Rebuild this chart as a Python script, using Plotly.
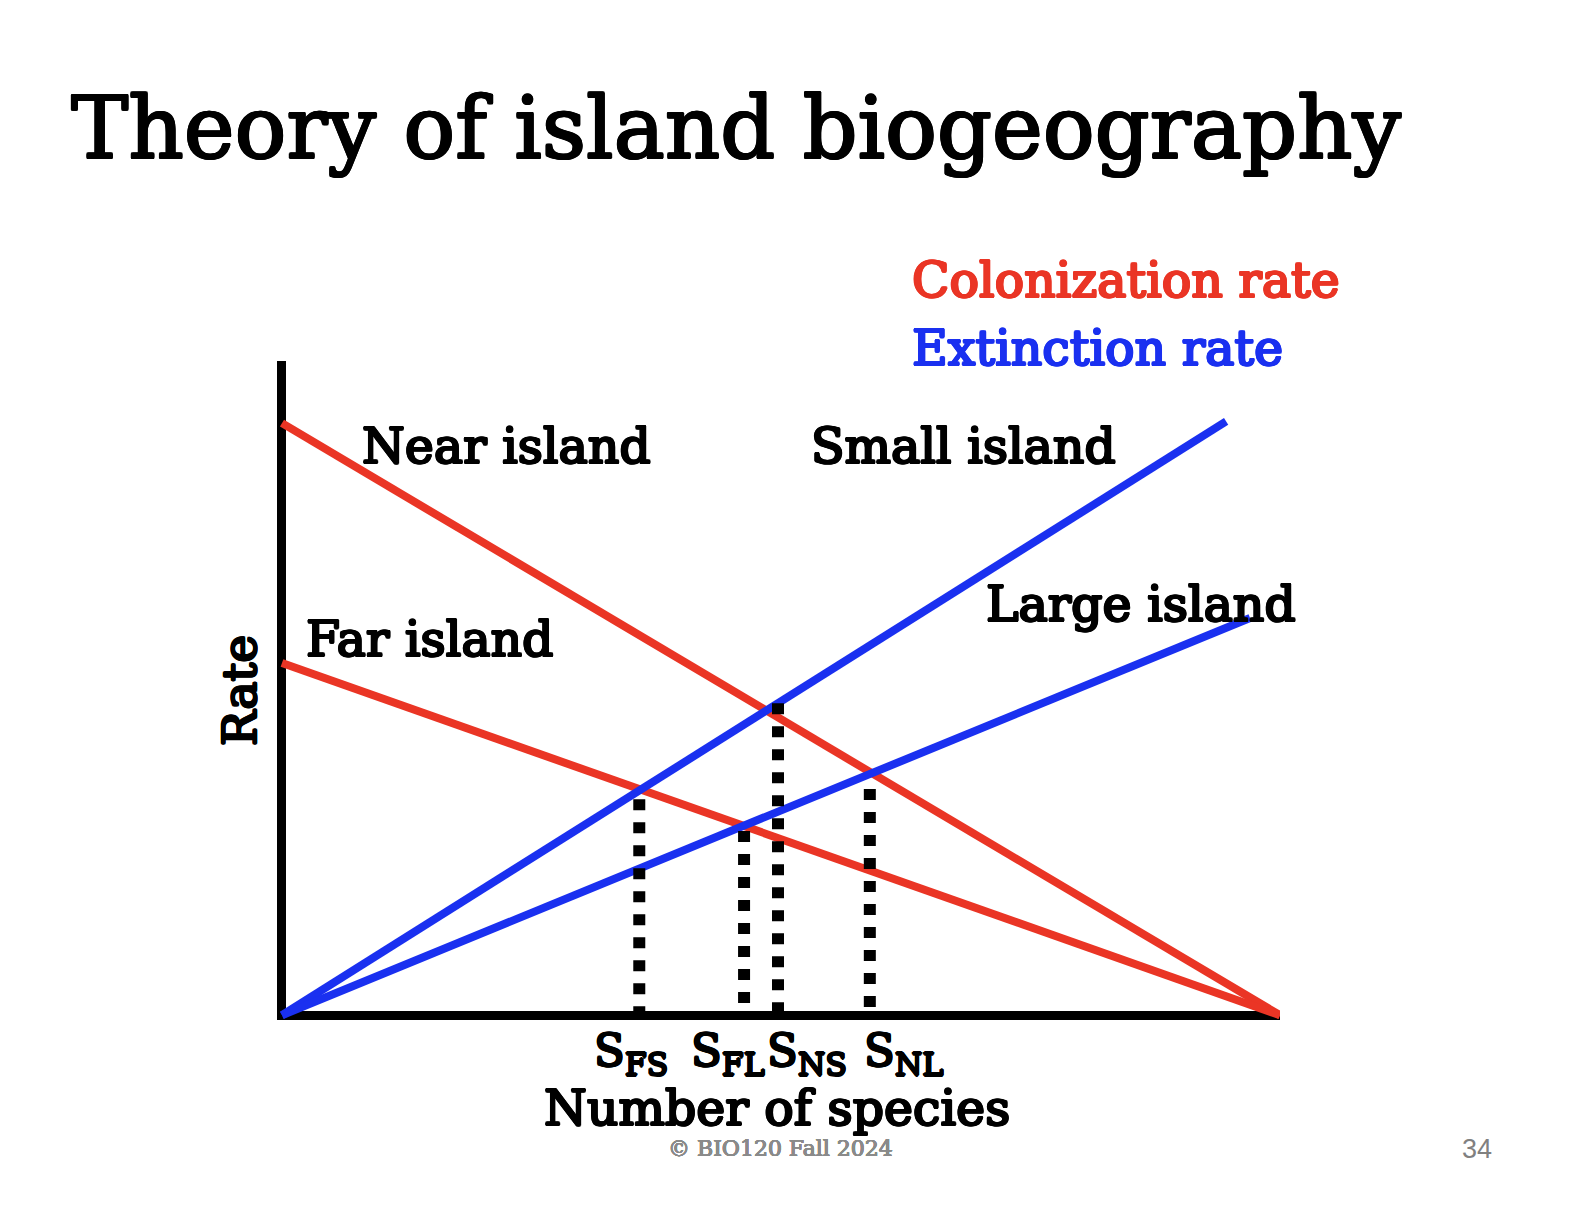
import plotly.graph_objects as go

# ---------------- data ----------------
colon_x = [0, 100]
near_colonization = [100, 0]
far_colonization = [59.5, 0]

small_ext_x = [0, 94.6]
small_ext_y = [0, 100.3]
large_ext_x = [0, 97.0]
large_ext_y = [0, 67.1]

eq_labels = ["FS", "FL", "NS", "NL"]
eq_species = [35.8, 46.3, 49.7, 58.9]
eq_rate = [36.5, 31.1, 52.7, 38.2]

RED = "#EA3525"
BLUE = "#1A30F0"
FONT = "DejaVu Serif"

W, H = 1584, 1218
L, R, T, B = 269, 312, 353, 206


def P(px, py):
    return (px - L) / (W - L - R), (H - B - py) / (H - T - B)


def thick(color, r):
    d = round(r * 0.7071, 2)
    offs = [(r, 0), (-r, 0), (0, r), (0, -r), (d, d), (-d, d), (d, -d), (-d, -d)]
    return ", ".join(f"{a}px {b}px 0px {color}" for a, b in offs)


fig = go.Figure()

# colonization (red)
for yv in (near_colonization, far_colonization):
    fig.add_trace(go.Scatter(x=colon_x, y=yv, mode="lines",
                             line=dict(color=RED, width=8), hoverinfo="skip"))
# extinction (blue)
for xv, yv in ((small_ext_x, small_ext_y), (large_ext_x, large_ext_y)):
    fig.add_trace(go.Scatter(x=xv, y=yv, mode="lines",
                             line=dict(color=BLUE, width=8), hoverinfo="skip"))
# equilibrium dotted lines
for s, r in zip(eq_species, eq_rate):
    fig.add_trace(go.Scatter(x=[s, s], y=[r, 0], mode="lines",
                             line=dict(color="black", width=12, dash="11px,12px"),
                             hoverinfo="skip"))

annotations = []


def ann(text, px, py, size, color="black", xanchor="left", font=FONT, angle=0, r=0):
    x, y = P(px, py)
    f = dict(family=font, size=size, color=color)
    if r:
        f["shadow"] = thick(color, r)
    annotations.append(dict(text=text, x=x, y=y, xref="paper", yref="paper",
                            xanchor=xanchor, yanchor="middle", showarrow=False,
                            textangle=angle, borderpad=0, borderwidth=0, font=f))


ann("Theory of island biogeography", 63, 120, 86, r=1.1)
ann("Colonization rate", 904, 272.5, 49, RED, r=1.2)
ann("Extinction rate", 904, 340, 49, BLUE, r=1.2)
ann("Near island", 354, 438.5, 49, r=1.2)
ann("Far island", 298, 631.5, 49, r=1.2)
ann("Small island", 803, 438.5, 49, r=1.2)
ann("Large island", 978, 596.5, 49, r=1.2)
ann("Rate", 231.5, 682.5, 47, xanchor="center", angle=-90, r=1.2)
ann("Number of species", 769, 1100, 49, xanchor="center", r=1.2)
for lab, px in zip(eq_labels, [586, 683, 759, 856]):
    ann("S<sub>" + lab + "</sub>", px, 1045, 45, r=1.1)
ann("© BIO120 Fall 2024", 772, 1140, 22, color="#8A8A8A", xanchor="center", r=0.35)
ann("34", 1454, 1141, 27, color="#808080", font="Liberation Sans")

fig.update_layout(
    width=W, height=H, autosize=False,
    margin=dict(l=L, r=R, t=T, b=B, pad=0),
    paper_bgcolor="white", plot_bgcolor="white",
    showlegend=False,
    annotations=annotations,
    xaxis=dict(range=[-0.5, 100], showgrid=False, zeroline=True,
               zerolinewidth=9, zerolinecolor="black",
               showticklabels=False, ticks="", showline=False, fixedrange=True),
    yaxis=dict(range=[-0.8, 110.5], showgrid=False, zeroline=True,
               zerolinewidth=9, zerolinecolor="black",
               showticklabels=False, ticks="", showline=False, fixedrange=True),
)

fig.write_html("out.html", config={"displayModeBar": False})
